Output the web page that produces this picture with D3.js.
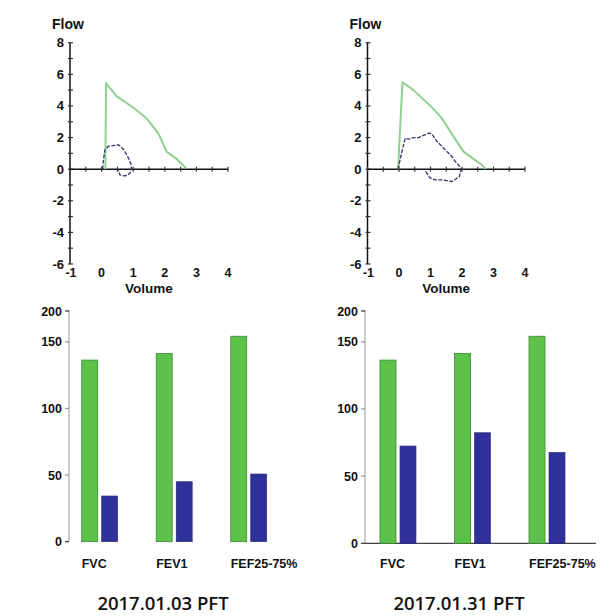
<!DOCTYPE html>
<html>
<head>
<meta charset="utf-8">
<script src="https://cdn.jsdelivr.net/npm/d3@7"></script>
<style>
  html, body { margin: 0; padding: 0; background: #fff; }
  svg { display: block; }
  .tk { font-family: "Liberation Sans", Arial, sans-serif; font-weight: bold; fill: #111; }
  .cap { font-family: "Open Sans", "Noto Sans", sans-serif; font-weight: 600; fill: #111; }
</style>
</head>
<body>
<svg id="chart" width="606" height="616"></svg>
<script>
// ---------- DATA ----------
// Flow-volume loops: [volume, flow]
const flowTicks = [8, 6, 4, 2, 0, -2, -4, -6];
const volumeTicks = [-1, 0, 1, 2, 3, 4];

const loop1Predicted = [[0.12,0],[0.14,5.45],[0.48,4.6],[1.0,3.9],[1.43,3.2],[1.8,2.25],[2.06,1.1],[2.4,0.6],[2.68,0.05]];
const loop1Measured = [[0.03,0],[0.06,0.6],[0.1,1.2],[0.21,1.45],[0.4,1.5],[0.53,1.55],[0.65,1.35],[0.74,1.1],[0.85,0.7],[0.93,0.3],[0.95,0],[0.9,-0.25],[0.8,-0.4],[0.7,-0.42],[0.58,-0.36],[0.53,-0.1],[0.55,0]];

const loop2Predicted = [[-0.03,0],[0.11,5.5],[0.46,5.0],[1.0,4.0],[1.36,3.23],[1.73,2.06],[2.05,1.11],[2.4,0.6],[2.63,0.27],[2.75,0]];
const loop2Measured = [[-0.03,0],[0.09,1.1],[0.2,1.96],[0.3,1.9],[0.46,2.0],[0.62,2.0],[0.74,2.1],[0.94,2.28],[1.04,2.23],[1.21,1.75],[1.47,1.22],[1.68,0.8],[1.79,0.48],[1.89,0.27],[1.97,0],[1.92,-0.47],[1.68,-0.78],[1.36,-0.68],[1.15,-0.68],[0.99,-0.57],[0.85,-0.15],[0.84,0]];

// Bar charts (% predicted)
const categories = ["FVC", "FEV1", "FEF25-75%"];
const pctTicks = [0, 50, 100, 150, 200];
const bars1Green = [136.3, 141.3, 159];
const bars1Blue  = [34.3, 45, 50.8];
const bars2Green = [136.4, 141.4, 159];
const bars2Blue  = [72.4, 82.3, 67.7];
const captions = ["2017.01.03 PFT", "2017.01.31 PFT"];

// ---------- DRAW ----------
const svg = d3.select("#chart");
svg.append("rect").attr("width", 606).attr("height", 616).attr("fill", "#fff");

function flowPlot(x0, x1, pred, meas) {
  const g = svg.append("g");
  const x = d3.scaleLinear().domain([-1, 4]).range([x0, x1]);
  const y = d3.scaleLinear().domain([-6, 8]).range([264, 42.7]);
  // y axis
  g.append("line").attr("x1", x(-1)).attr("x2", x(-1)).attr("y1", y(8)).attr("y2", y(-6))
    .attr("stroke", "#111").attr("stroke-width", 1.5);
  g.selectAll(".ytk").data(d3.range(-6, 9, 1)).join("line")
    .attr("x1", x(-1) - 2).attr("x2", x(-1) + 3)
    .attr("y1", d => y(d)).attr("y2", d => y(d))
    .attr("stroke", "#333").attr("stroke-width", 1.2);
  g.selectAll(".ylab").data(flowTicks).join("text").attr("class", "tk")
    .attr("x", x(-1) - 6).attr("y", d => y(d) + 4.5)
    .attr("text-anchor", "end").attr("font-size", 13)
    .text(d => d);
  // x axis at flow 0
  g.append("line").attr("x1", x(-1)).attr("x2", x(4)).attr("y1", y(0)).attr("y2", y(0))
    .attr("stroke", "#111").attr("stroke-width", 1.5);
  g.selectAll(".xtk").data(d3.range(-1, 4.01, 0.5)).join("line")
    .attr("x1", d => x(d)).attr("x2", d => x(d))
    .attr("y1", y(0) - 2.5).attr("y2", y(0) + 2.5)
    .attr("stroke", "#333").attr("stroke-width", 1.2);
  g.selectAll(".xlab").data(volumeTicks).join("text").attr("class", "tk")
    .attr("x", d => x(d) + (d < 0 ? 1 : 0)).attr("y", 277)
    .attr("text-anchor", "middle").attr("font-size", 12.5)
    .text(d => d);
  g.append("text").attr("class", "tk").attr("x", x(1.5)).attr("y", 292.5)
    .attr("text-anchor", "middle").attr("font-size", 13.5).text("Volume");
  g.append("text").attr("class", "tk").attr("x", x(-1) - 18).attr("y", 29)
    .attr("font-size", 14).text("Flow");

  const line = d3.line().x(d => x(d[0])).y(d => y(d[1]));
  g.append("path").datum(pred).attr("d", line).attr("fill", "none")
    .attr("stroke", "#8fd18f").attr("stroke-width", 2).attr("stroke-linejoin", "round");
  g.append("path").datum(meas).attr("d", line).attr("fill", "none")
    .attr("stroke", "#35356f").attr("stroke-width", 1.3).attr("stroke-dasharray", "4,1.5");
}

flowPlot(70, 228, loop1Predicted, loop1Measured);
flowPlot(367.5, 525, loop2Predicted, loop2Measured);

function barPlot(axisX, zeroY, bandStart, green, blue, baseline, caption, capX) {
  const g = svg.append("g");
  const y = d3.scaleLinear().domain([0, 150, 200]).range([zeroY, 341.8, 311]);
  const xb = d3.scaleBand().domain(categories).range([bandStart, bandStart + 185])
    .paddingInner(0.517).paddingOuter(0);
  const xs = d3.scaleBand().domain(["pred", "meas"]).range([0, xb.bandwidth()]).paddingInner(0.2);

  g.append("line").attr("x1", axisX).attr("x2", axisX).attr("y1", 310).attr("y2", zeroY)
    .attr("stroke", "#a8a8a8").attr("stroke-width", 1.2);
  g.selectAll(".ytk").data(pctTicks).join("line")
    .attr("x1", axisX - 4).attr("x2", axisX)
    .attr("y1", d => y(d)).attr("y2", d => y(d))
    .attr("stroke", d => (d === 200 || d === 0) ? "#333" : "#999").attr("stroke-width", 1.2);
  g.selectAll(".ylab").data(pctTicks).join("text").attr("class", "tk")
    .attr("x", axisX - 7).attr("y", d => y(d) + 4.5)
    .attr("text-anchor", "end").attr("font-size", 12.5)
    .text(d => d);
  if (baseline) {
    g.append("line").attr("x1", axisX).attr("x2", 596).attr("y1", zeroY).attr("y2", zeroY)
      .attr("stroke", "#444").attr("stroke-width", 1.2);
  }
  g.selectAll(".gbar").data(green).join("rect")
    .attr("x", (d, i) => xb(categories[i]) + xs("pred"))
    .attr("width", xs.bandwidth())
    .attr("y", d => y(d)).attr("height", d => zeroY - y(d))
    .attr("fill", "#5cc24a").attr("stroke", "#3a8a35").attr("stroke-width", 0.8);
  g.selectAll(".bbar").data(blue).join("rect")
    .attr("x", (d, i) => xb(categories[i]) + xs("meas"))
    .attr("width", xs.bandwidth())
    .attr("y", d => y(d)).attr("height", d => zeroY - y(d))
    .attr("fill", "#30309a").attr("stroke", "#26267a").attr("stroke-width", 0.6);
  g.selectAll(".clab").data(categories).join("text").attr("class", "tk")
    .attr("x", d => xb(d)).attr("y", 568)
    .attr("font-size", 12.5).text(d => d);
  g.append("text").attr("class", "cap").attr("x", capX).attr("y", 610)
    .attr("text-anchor", "middle").attr("font-size", 18.5).text(caption);
}

barPlot(69, 541.7, 81.7, bars1Green, bars1Blue, false, captions[0], 163);
barPlot(365, 543.3, 380, bars2Green, bars2Blue, true, captions[1], 459);
</script>
</body>
</html>
